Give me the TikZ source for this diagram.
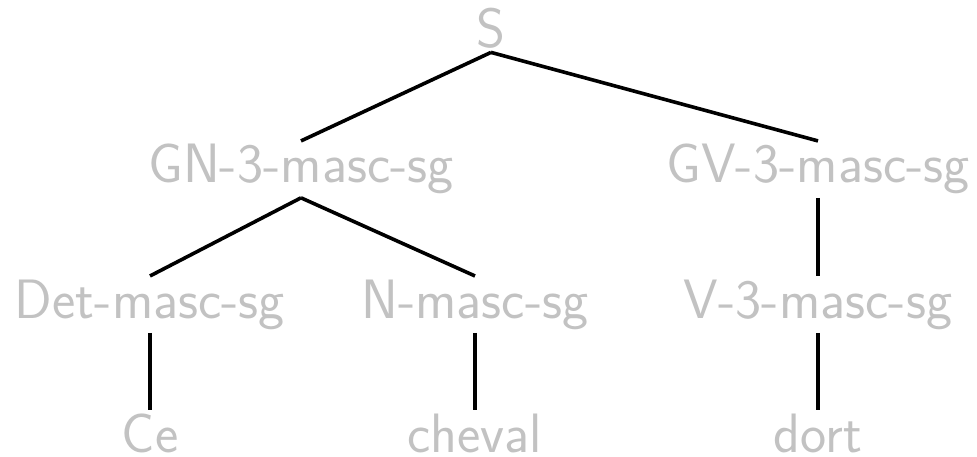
\documentclass[tikz,border=0pt]{standalone}
\usepackage{fontspec}
\begin{document}
\begin{tikzpicture}[x=1pt,y=1pt,
  lbl/.style={anchor=base, inner sep=3.5pt, outer sep=0pt, text=black!24,
    font=\sffamily\fontsize{55.5}{62}\selectfont},
  edge/.style={draw=black, line width=3.6pt}]
\useasboundingbox (0,0) rectangle (977,456);
\node[lbl] (S) at (491,408) {S};
\node[lbl] (GN) at (301,273) {GN-3-masc-sg};
\node[lbl] (GV) at (818,273) {GV-3-masc-sg};
\node[lbl] (Det) at (150,138) {Det-masc-sg};
\node[lbl] (N) at (475,138) {N-masc-sg};
\node[lbl] (V) at (818,138) {V-3-masc-sg};
\node[lbl] (Ce) at (150,4) {Ce};
\node[lbl] (cheval) at (475,4) {cheval};
\node[lbl] (dort) at (818,4) {dort};
\draw[edge] (S.south) -- (GN.north);
\draw[edge] (S.south) -- (GV.north);
\draw[edge] (GN.south) -- (Det.north);
\draw[edge] (GN.south) -- (N.north);
\draw[edge] (GV.south) -- (V.north);
\draw[edge] (Det.south) -- (Ce.north);
\draw[edge] (N.south) -- (cheval.north);
\draw[edge] (V.south) -- (dort.north);
\end{tikzpicture}
\end{document}
